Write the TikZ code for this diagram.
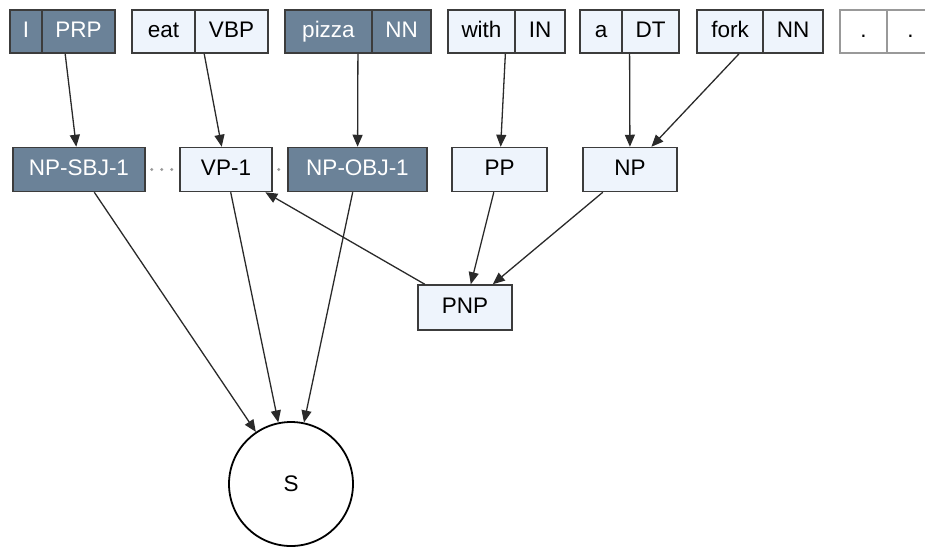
\documentclass[tikz,border=0pt]{standalone}
\usepackage{fontspec}
\setmainfont{Liberation Sans}
\usetikzlibrary{arrows.meta,fit,calc}
\definecolor{darkfill}{HTML}{6B8298}
\definecolor{lightfill}{HTML}{EEF4FC}
\definecolor{bordercol}{HTML}{3C3C3C}
\definecolor{edgecol}{HTML}{2A2A2A}
\definecolor{dotcol}{HTML}{9A9A9A}
\tikzset{
  box/.style={draw=bordercol, line width=1.5pt, rectangle, inner sep=0pt,
    font=\fontsize{22.5}{26}\selectfont, text height=16pt, text depth=4pt},
  darkbox/.style={box, fill=darkfill, text=white},
  lightbox/.style={box, fill=lightfill, text=black},
  whitebox/.style={box, draw=gray!80, fill=white, text=black},
  whole/.style={inner sep=0pt, draw=none, fill=none},
  edge/.style={draw=edgecol, line width=1.3pt, -{Triangle[length=12pt,width=10pt]}},
  dotline/.style={draw=dotcol, line width=3.2pt, line cap=round, dash pattern=on 0pt off 10pt},
  snode/.style={circle, draw=black, line width=1.8pt, fill=white, minimum size=124pt,
    inner sep=0pt, font=\fontsize{22.5}{26}\selectfont}
}
\begin{document}
\begin{tikzpicture}[x=1pt,y=-1pt]
\useasboundingbox (0,0) rectangle (925,547);
% top row
\node[darkbox, minimum width=32pt, minimum height=43pt] (w1) at (26,31.5) {I};
\node[darkbox, minimum width=73pt, minimum height=43pt] (t1) at (78.5,31.5) {PRP};
\node[lightbox, minimum width=63pt, minimum height=43pt] (w2) at (163.5,31.5) {eat};
\node[lightbox, minimum width=73pt, minimum height=43pt] (t2) at (231.5,31.5) {VBP};
\node[darkbox, minimum width=87pt, minimum height=43pt] (w3) at (328.5,31.5) {pizza};
\node[darkbox, minimum width=59pt, minimum height=43pt] (t3) at (401.5,31.5) {NN};
\node[lightbox, minimum width=67pt, minimum height=43pt] (w4) at (481.5,31.5) {with};
\node[lightbox, minimum width=50pt, minimum height=43pt] (t4) at (540,31.5) {IN};
\node[lightbox, minimum width=42pt, minimum height=43pt] (w5) at (601,31.5) {a};
\node[lightbox, minimum width=57pt, minimum height=43pt] (t5) at (650.5,31.5) {DT};
\node[lightbox, minimum width=66pt, minimum height=43pt] (w6) at (730,31.5) {fork};
\node[lightbox, minimum width=60pt, minimum height=43pt] (t6) at (793,31.5) {NN};
\node[whitebox, minimum width=47pt, minimum height=43pt] (w7) at (863.5,31.5) {.};
\node[whitebox, minimum width=47pt, minimum height=43pt] (t7) at (910.5,31.5) {.};
\node[whole, fit=(w1)(t1)] (b1) {};
\node[whole, fit=(w2)(t2)] (b2) {};
\node[whole, fit=(w3)(t3)] (b3) {};
\node[whole, fit=(w4)(t4)] (b4) {};
\node[whole, fit=(w5)(t5)] (b5) {};
\node[whole, fit=(w6)(t6)] (b6) {};
% second row
\node[darkbox, minimum width=132pt, minimum height=44pt] (np1) at (79,169.5) {NP-SBJ-1};
\node[lightbox, minimum width=92pt, minimum height=44pt] (vp1) at (226,169.5) {VP-1};
\node[darkbox, minimum width=139pt, minimum height=44pt] (np2) at (357.5,169.5) {NP-OBJ-1};
\node[lightbox, minimum width=95pt, minimum height=44pt] (pp) at (499.5,169.5) {PP};
\node[lightbox, minimum width=94pt, minimum height=44pt] (np3) at (630,169.5) {NP};
\node[lightbox, minimum width=94pt, minimum height=45pt] (pnp) at (465,307.5) {PNP};
\node[snode] (s) at (291,484) {S};
% dotted links
\draw[dotline] ([xshift=6pt]np1.east) -- ([xshift=-4pt]vp1.west);
\draw[dotline] ([xshift=6pt]vp1.east) -- ([xshift=-4pt]np2.west);
% edges
\draw[edge] (b1) -- (np1);
\draw[edge] (b2) -- (vp1);
\draw[edge] (b3) -- (np2);
\draw[edge] (b4) -- (pp);
\draw[edge] (b5) -- (np3);
\draw[edge] (b6) -- (np3);
\draw[edge] (pp) -- (pnp);
\draw[edge] (np3) -- (pnp);
\draw[edge] (pnp) -- (vp1);
\draw[edge] (np1) -- (s);
\draw[edge] (vp1) -- (s);
\draw[edge] (np2) -- (s);
\end{tikzpicture}
\end{document}
